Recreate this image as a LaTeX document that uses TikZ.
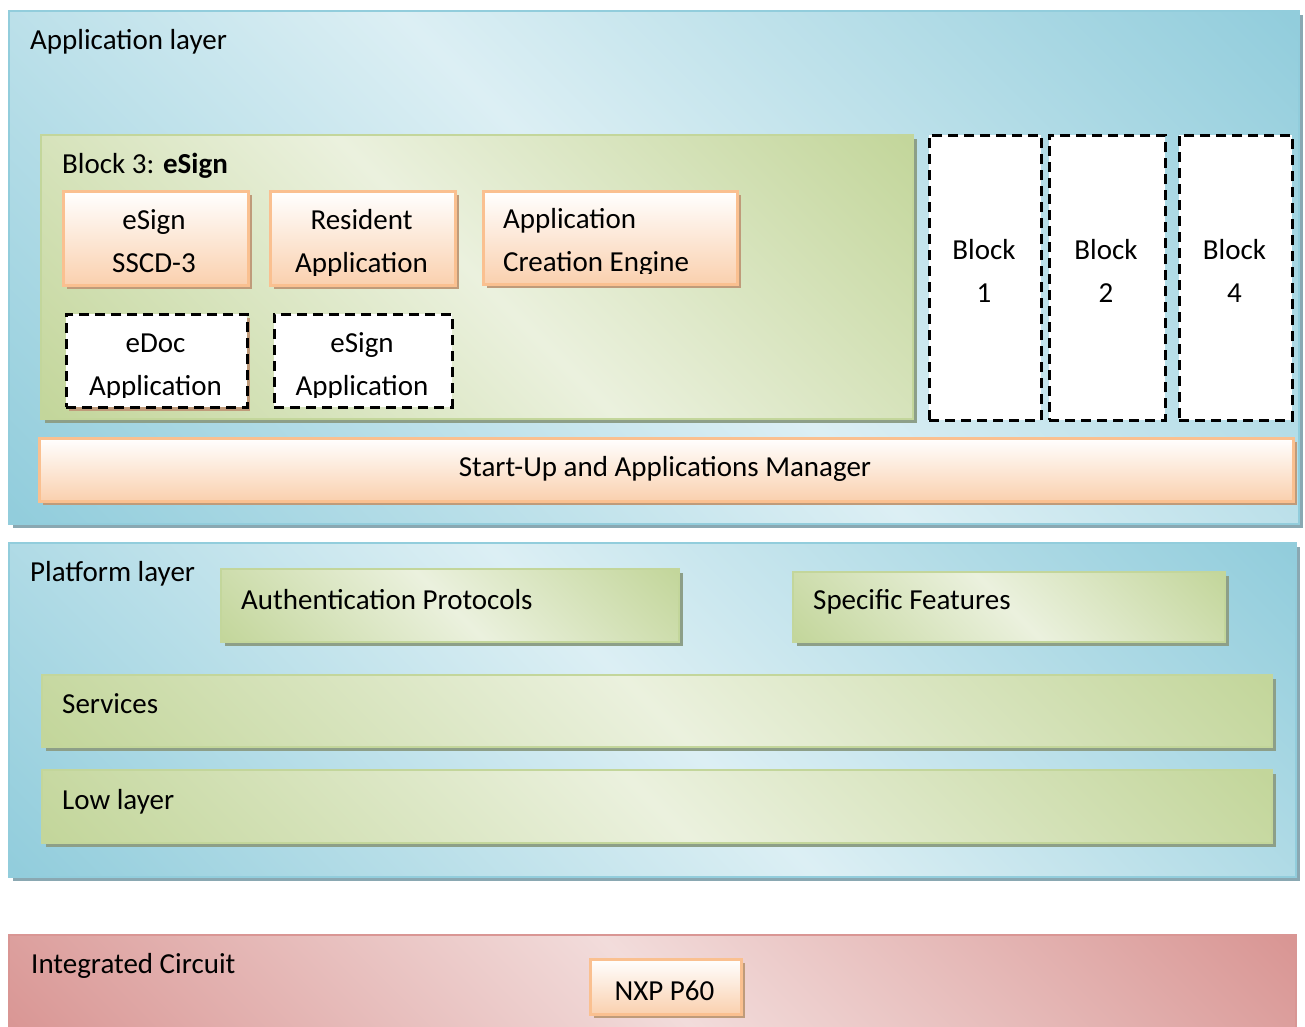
\documentclass[tikz,border=0pt]{standalone}
\usepackage{fontspec}
\setmainfont{Carlito}
\usepackage{xcolor}
\usetikzlibrary{positioning,shadows,calc}

\definecolor{bluelight}{HTML}{DCEFF4}
\definecolor{bluedark}{HTML}{92CDDC}
\definecolor{blueshadow}{HTML}{8AA8B2}
\definecolor{greenlight}{HTML}{EBF1DE}
\definecolor{greendark}{HTML}{C3D69B}
\definecolor{greenshadow}{HTML}{8D9F88}
\definecolor{orangedark}{HTML}{FAD0AE}
\definecolor{orangeborder}{HTML}{FAC090}
\definecolor{orangeshadow}{HTML}{BF9B7A}
\definecolor{redlight}{HTML}{F2DCDB}
\definecolor{reddark}{HTML}{D99694}

\pgfdeclareverticalshading{bluediag}{100bp}{color(0bp)=(bluedark); color(15bp)=(bluedark); color(50bp)=(bluelight); color(85bp)=(bluedark); color(100bp)=(bluedark)}
\pgfdeclareverticalshading{greendiag}{100bp}{color(0bp)=(greendark); color(15bp)=(greendark); color(50bp)=(greenlight); color(85bp)=(greendark); color(100bp)=(greendark)}
\pgfdeclareverticalshading{reddiag}{100bp}{color(0bp)=(reddark); color(15bp)=(reddark); color(50bp)=(redlight); color(85bp)=(reddark); color(100bp)=(reddark)}

\tikzset{
  panel/.style={rectangle, anchor=north west, inner sep=0pt, line width=2pt},
  layerbox/.style={panel, draw=bluedark, shading=bluediag, shading angle=-45,
    drop shadow={shadow xshift=4pt, shadow yshift=-4pt, fill=blueshadow, opacity=1}},
  greenbox/.style={panel, draw=greendark, shading=greendiag, shading angle=-45,
    drop shadow={shadow xshift=4pt, shadow yshift=-4pt, fill=greenshadow, opacity=1}},
  orangebox/.style={panel, draw=orangeborder, line width=2.5pt, top color=white, bottom color=orangedark,
    drop shadow={shadow xshift=4pt, shadow yshift=-4pt, fill=orangeshadow, opacity=1}},
  redbox/.style={panel, draw=reddark, shading=reddiag, shading angle=-45},
  dashbox/.style={panel, draw=black, fill=white, line width=2.5pt, dash pattern=on 10pt off 6pt},
  caption/.style={anchor=base west, inner sep=0pt},
  twoline/.style={anchor=base, inner sep=0pt, align=center},
}

\begin{document}
\begin{tikzpicture}[x=1pt, y=-1pt, font=\fontsize{29pt}{43pt}\selectfont]
\useasboundingbox (0,0) rectangle (1305,1026);
\clip (0,0) rectangle (1305,1026);
\fill[white] (0,0) rectangle (1305,1026);

% application layer
\node[layerbox, minimum width=1290pt, minimum height=513pt] (app) at (8,10) {};
\node[caption] (app label) at (30,49) {Application layer};

\node[greenbox, minimum width=872pt, minimum height=284pt] (block3) at (40,134) {};
\node[caption] (block3 label) at (62,173) {Block 3: \textbf{eSign}};

\node[orangebox, minimum width=185pt, minimum height=94pt] (sscd) at (62,190) {};
\node[orangebox, minimum width=185pt, minimum height=94pt] (resident) at (269,190) {};
\node[orangebox, minimum width=254pt, minimum height=93pt] (ace) at (482,190) {};
\node[dashbox, minimum width=181pt, minimum height=93pt,
  drop shadow={shadow xshift=3pt, shadow yshift=-4pt, fill=orangeshadow, opacity=1, draw=none}] (edoc) at (65,313) {};
\node[dashbox, minimum width=178pt, minimum height=93pt] (esignapp) at (273,313) {};

% texts cut at the bottom of the boxes
\begin{scope}
  \clip (sscd.north west) rectangle ([yshift=11pt]sscd.south east);
  \node[twoline] (sscd text) at (154,272) {eSign\\SSCD-3};
\end{scope}
\begin{scope}
  \clip (resident.north west) rectangle ([yshift=11pt]resident.south east);
  \node[twoline] (resident text) at (361.5,272) {Resident\\Application};
\end{scope}
\begin{scope}
  \clip (ace.north west) rectangle ([yshift=12pt]ace.south east);
  \node[twoline, anchor=base west, align=left] (ace text) at (503,271) {Application\\Creation Engine};
\end{scope}
\begin{scope}
  \clip (edoc.north west) rectangle ([yshift=11pt]edoc.south east);
  \node[twoline] (edoc text) at (155.5,395) {eDoc\\Application};
\end{scope}
\begin{scope}
  \clip (esignapp.north west) rectangle ([yshift=11pt]esignapp.south east);
  \node[twoline] (esignapp text) at (362,395) {eSign\\Application};
\end{scope}

\node[dashbox, minimum width=112pt, minimum height=285pt] (block1) at (928,134) {};
\node[dashbox, minimum width=116pt, minimum height=285pt] (block2) at (1048,134) {};
\node[dashbox, minimum width=113pt, minimum height=285pt] (block4) at (1178,134) {};
\node[twoline] (block1 text) at (984,302) {Block\\1};
\node[twoline] (block2 text) at (1106,302) {Block\\2};
\node[twoline] (block4 text) at (1234.5,302) {Block\\4};

\node[orangebox, minimum width=1254pt, minimum height=63pt] (startup) at (38,437) {};
\node[twoline] (startup text) at (665,476) {Start-Up and Applications Manager};

% platform layer
\node[layerbox, minimum width=1287pt, minimum height=334pt] (platform) at (8,542) {};
\node[caption] (platform label) at (30,581) {Platform layer};

\node[greenbox, minimum width=458pt, minimum height=73pt] (auth) at (220,568) {};
\node[caption] (auth text) at (241,609) {Authentication Protocols};
\node[greenbox, minimum width=432pt, minimum height=70pt] (specific) at (792,571) {};
\node[caption] (specific text) at (813,609) {Specific Features};
\node[greenbox, minimum width=1230pt, minimum height=72pt] (services) at (41,674) {};
\node[caption] (services text) at (62,713) {Services};
\node[greenbox, minimum width=1230pt, minimum height=73pt] (lowlayer) at (41,769) {};
\node[caption] (lowlayer text) at (62,809) {Low layer};

% integrated circuit
\node[redbox, minimum width=1287pt, minimum height=106pt] (ic) at (8,934) {};
\node[caption] (ic label) at (31,973) {Integrated Circuit};
\node[orangebox, minimum width=151pt, minimum height=55pt] (nxp) at (589,958) {};
\node[twoline] (nxp text) at (664.5,1000) {NXP P60};
\end{tikzpicture}
\end{document}
